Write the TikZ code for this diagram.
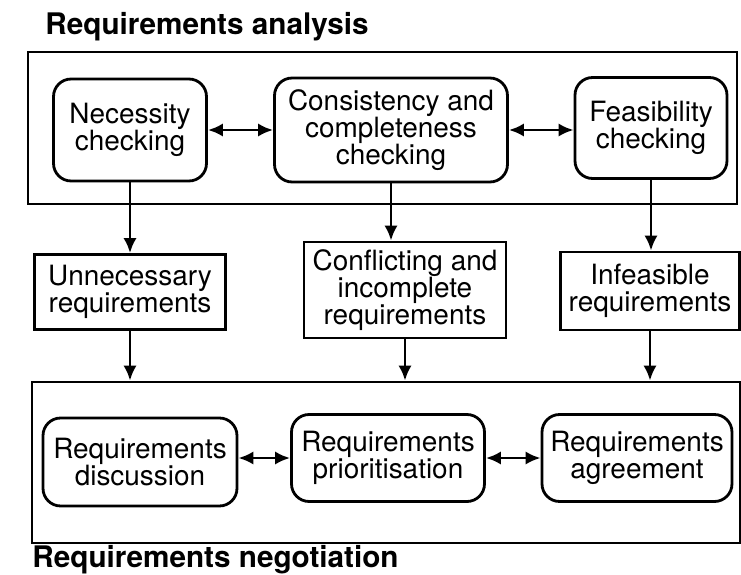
\documentclass[tikz,border=0pt]{standalone}
\usepackage{fontspec}
\setmainfont{TeX Gyre Heros}
\usepackage{tikz}
\usetikzlibrary{arrows.meta}

\begin{document}
\begin{tikzpicture}[x=0.02cm, y=-0.02cm,
    every node/.style={font=\fontsize{15.9}{15.3}\selectfont},
    proc/.style={draw, line width=1.6pt, rounded corners=10pt, align=center, inner sep=0pt},
    outcome/.style={draw, line width=1.6pt, align=center, inner sep=0pt},
    frame/.style={draw, line width=1.6pt, inner sep=0pt},
    heading/.style={font=\fontsize{16.9}{18}\selectfont\bfseries, anchor=base west, inner sep=0pt},
    flow/.style={line width=1.6pt, -{Latex[length=8.5pt,width=7.5pt]}},
    link/.style={line width=1.6pt, {Latex[length=8.5pt,width=7.5pt]}-{Latex[length=8.5pt,width=7.5pt]}}]
\useasboundingbox (0,0) rectangle (741,575);
% analysis stage
\node[heading] (anatitle) at (45,34) {Requirements analysis};
\node[frame, minimum width=14.18cm, minimum height=3.04cm] (anabox) at (382.5,128) {};
\node[proc, minimum width=3.06cm, minimum height=2.04cm] (nec) at (130,130) {Necessity\\checking};
\node[proc, minimum width=4.66cm, minimum height=2.08cm] (cons) at (391,130) {Consistency and\\completeness\\checking};
\node[proc, minimum width=3.04cm, minimum height=2.02cm] (feas) at (651,128) {Feasibility\\checking};
\draw[link] (nec.east) -- (nec.east -| cons.west);
\draw[link] (cons.east) -- (cons.east -| feas.west);
% outcomes
\node[outcome, minimum width=3.82cm, minimum height=1.5cm] (unnec) at (130,292) {Unnecessary\\requirements};
\node[outcome, minimum width=4.04cm, minimum height=1.92cm] (confl) at (405,290) {Conflicting and\\incomplete\\requirements};
\node[outcome, minimum width=3.58cm, minimum height=1.56cm] (infeas) at (650,291) {Infeasible\\requirements};
\draw[flow] (nec.south) -- (nec.south |- unnec.north);
\draw[flow] (cons.south) -- (cons.south |- confl.north);
\draw[flow] (feas.south) -- (feas.south |- infeas.north);
% negotiation stage
\node[frame, minimum width=14.16cm, minimum height=3.22cm] (negbox) at (386,462.5) {};
\node[proc, minimum width=3.88cm, minimum height=1.76cm] (disc) at (140,462) {Requirements\\discussion};
\node[proc, minimum width=3.86cm, minimum height=1.74cm] (prio) at (388,458) {Requirements\\prioritisation};
\node[proc, minimum width=3.80cm, minimum height=1.74cm] (agree) at (637,458) {Requirements\\agreement};
\draw[flow] (unnec.south) -- (unnec.south |- negbox.north);
\draw[flow] (confl.south) -- (confl.south |- negbox.north);
\draw[flow] (infeas.south) -- (infeas.south |- negbox.north);
\draw[link] (disc.east |- prio.east) -- (prio.west);
\draw[link] (prio.east) -- (agree.west);
\node[heading] (negtitle) at (32,567) {Requirements negotiation};
\end{tikzpicture}
\end{document}
